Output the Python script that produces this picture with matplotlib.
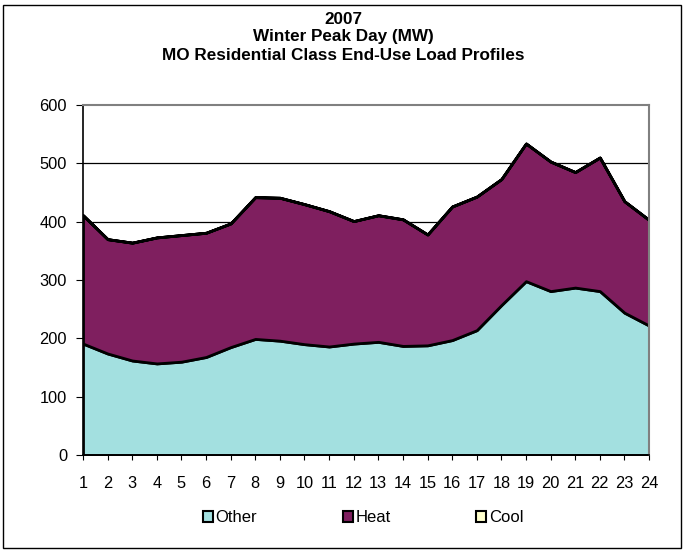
from matplotlib import pyplot as plt
from matplotlib.patches import Rectangle, Patch
import numpy as np

hours = list(range(1, 25))
other = [191, 174, 162, 157, 160, 168, 185, 199, 196, 190, 186, 191,
         194, 187, 188, 197, 214, 257, 298, 281, 287, 281, 244, 222]
heat = [220, 196, 202, 216, 217, 213, 212, 243, 245, 240, 232, 210,
        217, 217, 190, 229, 229, 216, 236, 222, 198, 229, 191, 181]
cool = [0] * 24
series_names = ["Other", "Heat", "Cool"]
colors = ["#A3E0E0", "#7F1F5F", "#FFFFCC"]
y_ticks = [0, 100, 200, 300, 400, 500, 600]

plt.rcParams['font.family'] = ['Liberation Sans', 'DejaVu Sans']

fig = plt.figure(figsize=(6.9, 5.5), dpi=100)
ax = fig.add_axes([83 / 690, 95 / 550, 566 / 690, 350 / 550])

# stacked areas with black outlines
ax.stackplot(hours, other, heat, cool, colors=colors,
             edgecolor="black", linewidth=2, zorder=2)

ax.set_xlim(1, 24)
ax.set_ylim(0, 600)
ax.set_xticks(hours)
ax.set_yticks(y_ticks)
ax.tick_params(axis="both", labelsize=11.8, direction="out", color="black")
ax.tick_params(axis="x", length=3.6, pad=11.5)
ax.tick_params(axis="y", length=5, pad=6.5)

# gridlines behind the areas
for y in y_ticks[1:-1]:
    ax.axhline(y, color="black", linewidth=0.9, zorder=1)

for side in ["top", "right"]:
    ax.spines[side].set_color("#808080")
    ax.spines[side].set_linewidth(1.5)
for side in ["left", "bottom"]:
    ax.spines[side].set_color("black")
    ax.spines[side].set_linewidth(1.2)

fig.text(0.497, 1 - 19 / 550, "2007", ha="center", va="center",
         fontsize=12.3, fontweight="bold")
fig.text(0.497, 1 - 37 / 550, "Winter Peak Day (MW)", ha="center",
         va="center", fontsize=12.3, fontweight="bold")
fig.text(0.497, 1 - 55 / 550, "MO Residential Class End-Use Load Profiles",
         ha="center", va="center", fontsize=12.3, fontweight="bold")

handles = [Patch(facecolor=c, edgecolor="black", linewidth=1.5)
           for c in colors]
fig.legend(handles, series_names, loc="center", ncol=3,
           bbox_to_anchor=(0.526, 1 - 518 / 550), frameon=False,
           fontsize=12, handlelength=0.6, handleheight=0.6,
           handletextpad=0.15, columnspacing=5.15)

# outer chart border
fig.patches.append(Rectangle((3 / 690, 2 / 550), 678 / 690, 543 / 550,
                             transform=fig.transFigure, fill=False,
                             edgecolor="black", linewidth=1))

fig.savefig("out.png", dpi=100)
